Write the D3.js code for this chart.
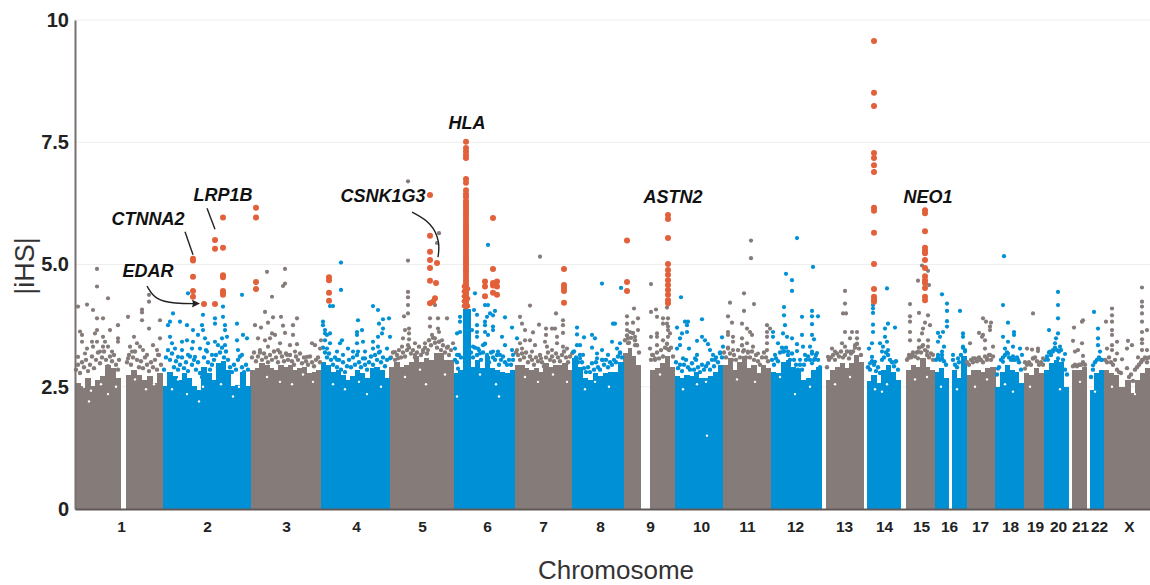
<!DOCTYPE html>
<html><head><meta charset="utf-8">
<script src="https://cdn.jsdelivr.net/npm/d3@7/dist/d3.min.js"></script>
<style>html,body{margin:0;background:#fff}svg{display:block}text{font-family:"Liberation Sans",Arial,sans-serif}</style>
</head><body><svg id="c" width="1150" height="585"></svg>
<script>
// position along the genome, in chart units (0..1075); |iHS| on the other axis
const chromosomeLabels=["1","2","3","4","5","6","7","8","9","10","11","12","13","14","15","16","17","18","19","20","21","22","X"];
const chromosomeTicks=[46,132,211,281,347,412,468,525,575,626,672,720,769,809,846,874,905,935,960,983,1005,1024,1054];
const yTicks=[0,2.5,5,7.5,10];
// spans of the dense mass
const segGrey=[[0,45],[51,87.5],[175,246],[314,378.5],[439.5,497],[548.4,565],[574.5,599.5],[647.8,695.5],[750.5,788],[831,859.5],[891,920],[948.5,969],[997,1011.5],[1028,1049],[1050,1075]];
const segBlue=[[87.5,175],[246,314],[378.5,388],[388,395],[395,439.5],[497,548.4],[599.5,647.8],[695.5,746],[791.5,825],[859.5,873],[876.6,891],[920,948.5],[969,993],[1014.5,1028]];
// top of the solid mass in each span, read left to right
const topGrey=[
[2.57,2.51,2.68,2.51,2.64,2.71,2.95,2.88,2.68],
[2.74,2.85,2.74,2.64,2.71,2.57,2.78],
[2.85,2.88,2.98,2.95,2.88,2.85,2.95,2.91,2.95,2.85,2.88,2.91,2.78,2.81,2.85],
[2.91,3.01,2.91,2.95,3.01,3.12,3.01,3.08,3.05,3.19,3.19,3.05,3.05],
[2.95,2.95,2.88,2.85,2.88,2.81,2.98,2.91,2.95,2.95,2.98,2.85],
[3.19,3.29,3.12,2.95],
[2.84,2.88,2.98,3.12,2.91],
[2.95,3.08,2.84,3.01,3.12,2.88,2.95,2.78,2.95,2.88],
[2.64,2.84,2.91,2.98,2.88,2.98,3.15,3.01],
[2.84,2.95,2.91,3.08,2.91,2.84],
[2.74,2.84,2.84,2.81,2.88,2.91],
[2.78,2.74,2.88,2.78],
[2.85,2.85,2.9],
[2.84,2.78,2.74,2.5],
[2.64,2.37,2.64,2.78,2.88]];
const topBlue=[
[2.51,2.81,2.71,2.64,2.78,2.68,2.51,2.44,2.91,2.78,2.64,2.98,3.02,2.85,2.51,2.54,2.81,2.51],
[3.01,2.95,2.81,2.84,2.74,2.64,2.71,2.84,2.78,2.67,2.88,2.91,2.84,2.67],
[2.78,2.85],
[4.1],
[2.91,3.05,2.88,3.12,2.88,2.85,2.81,2.78,2.85],
[3.08,2.91,2.67,2.64,2.78,2.71,2.78,2.81,2.81,3.01],
[2.71,2.67,2.74,2.71,2.81,2.67,2.67,2.71,2.81,2.95],
[2.81,2.78,3.01,3.05,2.91,2.84,2.64,2.67,2.84,2.91],
[2.61,2.74,2.57,2.84,2.95,2.81,2.64],
[2.81,2.88,2.67],
[2.84,2.67,3.12],
[2.5,2.81,2.95,2.84,2.81,2.57],
[2.84,2.98,3.05,3.01,2.5],
[2.44,2.78,2.84]];
// pale flecks inside the mass
const flecks=[[9,2.5],[16,2.42],[26,2.55],[33,2.35],[41,2.5],[60,2.65],[71,2.45],[79,2.55],[14,2.2],[97,2.45],[103,2.65],[112,2.35],[124,2.2],[128,2.5],[139,2.75],[146,2.55],[158,2.3],[164,2.5],[192,2.7],[205,2.6],[217,2.55],[228,2.75],[238,2.6],[258,2.55],[270,2.45],[284,2.6],[292,2.35],[306,2.5],[330,2.7],[345,2.85],[351,2.55],[370,2.75],[382,2.3],[405,2.75],[421,2.55],[424,2.3],[450,2.7],[463,2.6],[478,2.75],[492,2.6],[510,2.45],[520,2.6],[534,2.5],[585,2.75],[608,2.45],[622,2.55],[631,2.6],[632,1.5],[662,2.65],[680,2.6],[705,2.7],[720,2.35],[735,2.5],[760,2.55],[775,2.7],[800,2.45],[807,2.4],[812,2.55],[840,2.65],[852,2.7],[866,2.5],[882,2.45],[900,2.5],[912,2.65],[930,2.55],[938,2.4],[955,2.5],[985,2.45],[1005,2.6],[1020,2.4],[1037,2.5],[1060,2.35]];
// crowded points along the upper edge of the mass
const fringeGrey=[
[1,2.85],[3,2.95],[5,2.78],[7,3],[9,2.9],[11,3.05],[13,2.82],[15,2.95],[17,3.12],[19,2.88],[21,3.05],[23,3.2],[25,2.98],[27,3.1],[29,3.22],[31,3.05],[33,2.92],[35,3.12],[37,3.02],[39,3.15],[41,2.95],[43,2.85],[44,3.05],
[52,3],[54,3.15],[56,2.95],[58,3.1],[60,3.22],[62,3.05],[64,2.9],[66,3.02],[68,2.88],[70,3.1],[72,2.95],[74,2.82],[76,3],[78,2.9],[80,3.05],[82,2.85],[84,3.15],[86,2.95],
[177,3.1],[179,3.2],[181,3.02],[183,3.12],[185,3.2],[187,3.05],[189,3.18],[191,3.1],[193,3],[195,3.15],[197,3.05],[199,3.22],[201,3.1],[203,3],[205,3.2],[207,3.12],[209,3.02],[211,3.18],[213,3.05],[215,3.15],[217,3.02],[219,2.95],[221,3.12],[223,3.05],[225,3.18],[227,2.98],[229,3.1],[231,3.02],[233,2.95],[235,3.12],[237,3],[239,2.92],[241,3.05],[243,3.1],[245,3],
[316,3.1],[318,3.2],[320,3.05],[322,3.15],[324,3.25],[326,3.1],[328,3.2],[330,3.12],[332,3.25],[334,3.3],[336,3.18],[338,3.25],[340,3.1],[342,3.2],[344,3.32],[346,3.15],[348,3.25],[350,3.3],[352,3.18],[354,3.45],[356,3.35],[358,3.5],[360,3.4],[362,3.3],[364,3.42],[366,3.25],[368,3.35],[370,3.2],[372,3.3],[374,3.15],[376,3.25],
[441,3.2],[443,3.15],[445,3.05],[447,3.18],[449,3.1],[451,3.2],[453,3],[455,3.12],[457,3.05],[459,2.95],[461,3.1],[463,3.02],[465,3.15],[467,3],[469,2.92],[471,3.1],[473,3.2],[475,3.05],[477,3.12],[479,3.02],[481,3.18],[483,3.1],[485,3.02],[487,3.15],[489,3.22],[491,3.1],[493,3],[495,3.12],
[550,3.45],[552,3.55],[554,3.4],[556,3.5],[558,3.6],[560,3.45],[562,3.35],[564,3.2],[576,3.05],[578,3.15],[580,3.05],[582,3.2],[584,3.08],[586,3.25],[588,3.12],[590,3.3],[592,3.38],[594,3.25],[596,3.3],[598,3.12],
[649,3.2],[651,3.1],[653,3.3],[655,3.18],[657,3.05],[659,3.15],[661,3.05],[663,3.25],[665,3.1],[667,3.35],[669,3.25],[671,3.1],[673,3.2],[675,3.1],[677,3.22],[679,3.05],[681,3.15],[683,3.02],[685,2.95],[687,3.1],[689,3.2],[691,3.1],[693,3.02],
[752,2.9],[754,3.05],[756,3.1],[758,3.15],[760,3.05],[762,3.18],[764,3.12],[766,3.22],[768,3.1],[770,3.15],[772,3.22],[774,3.08],[776,3.18],[778,3.22],[780,3.3],[782,3.38],[784,3.28],[786,3.15],
[832,3.05],[834,3.15],[836,3.1],[838,3.2],[840,3.12],[842,3.2],[844,3.3],[846,3.2],[848,3.35],[850,3.25],[852,3.15],[854,3.1],[856,3.18],[858,3.05],
[892,3],[894,2.95],[896,3.05],[898,3],[900,3.08],[902,3.02],[904,3.1],[906,3.05],[908,3],[910,3.12],[912,3.05],[914,3.15],[916,3.05],[918,3.12],
[950,3],[952,2.95],[954,3],[956,2.95],[958,3.08],[960,3.1],[962,3.02],[964,2.95],[966,3],[968,2.95],
[998,2.92],[1000,2.95],[1002,2.92],[1004,2.95],[1006,2.95],[1008,3],[1010,2.95],
[1030,3.05],[1032,3],[1034,3.1],[1036,3],[1038,2.95],[1040,3.05],[1042,2.85],[1044,2.8],[1046,2.78],[1052,2.88],[1054,2.7],[1056,2.75],[1058,2.62],[1060,2.85],[1062,2.9],[1064,2.95],[1066,3],[1068,3.05],[1070,3.1],[1072,3],[1074,3.1]];
const fringeBlue=[
[89,2.85],[91,3.1],[93,3.25],[95,3.05],[97,3.18],[99,2.9],[101,3.02],[103,2.85],[105,2.95],[107,3.1],[109,2.88],[111,3],[113,2.82],[115,3.12],[117,2.95],[119,3.05],[121,2.85],[123,3],[125,2.78],[127,2.7],[129,3.1],[131,3.25],[133,3],[135,2.85],[137,2.95],[139,3.05],[141,3.15],[143,2.9],[145,3.2],[147,3.3],[149,3.1],[151,3.22],[153,3.05],[155,2.9],[157,2.8],[159,2.95],[161,2.85],[163,3.05],[165,3.12],[167,2.9],[169,2.8],[171,2.95],[173,2.85],
[248,3.3],[250,3.2],[252,3.1],[254,3.18],[256,3.05],[258,2.95],[260,3.1],[262,2.9],[264,3.05],[266,2.85],[268,3],[270,2.8],[272,2.92],[274,3.05],[276,2.9],[278,3.1],[280,2.95],[282,3.15],[284,3],[286,2.9],[288,3.08],[290,2.95],[292,2.85],[294,3],[296,3.12],[298,2.95],[300,3.15],[302,3.05],[304,3.2],[306,3],[308,3.1],[310,2.92],[312,3.05],
[380,3.05],[382,3],[384,3.15],[386,3.1],[396,3.2],[398,3.1],[400,3.3],[402,3.15],[404,3.25],[406,3.05],[408,3.2],[410,3.38],[412,3.12],[414,3],[416,3.2],[418,3.1],[420,3.05],[422,3.15],[424,2.95],[426,3.05],[428,3.12],[430,3],[432,2.95],[434,3.05],[436,2.95],[438,3.05],
[499,3.22],[501,3.1],[503,3],[505,3.15],[507,3],[509,2.88],[511,2.8],[513,2.9],[515,2.8],[517,2.98],[519,2.85],[521,3],[523,2.9],[525,2.85],[527,3.05],[529,2.95],[531,3.05],[533,2.9],[535,3],[537,2.95],[539,3.05],[541,3],[543,3.12],[545,3.2],[547,3.1],
[601,3],[603,2.88],[605,2.95],[607,2.82],[609,2.95],[611,3.05],[613,2.9],[615,2.85],[617,2.98],[619,2.85],[621,3.05],[623,2.9],[625,2.8],[627,2.95],[629,2.85],[631,2.92],[633,2.98],[635,2.85],[637,3.05],[639,2.92],[641,3.1],[643,3],[645,3.2],[647,3.1],
[697,3.05],[699,2.95],[701,3.08],[703,3.02],[705,3.2],[707,3.3],[709,3.22],[711,3.3],[713,3.15],[715,3.05],[717,3.18],[719,3.05],[721,2.95],[723,2.85],[725,2.95],[727,2.85],[729,2.95],[731,3.05],[733,3.12],[735,3.05],[737,3.18],[739,3.05],[741,3.15],[743,3.05],[745,2.9],
[793,2.9],[795,2.85],[797,3.02],[799,2.95],[801,2.82],[803,2.9],[805,2.78],[807,3.05],[809,3.1],[811,3.2],[813,3.15],[815,3.05],[817,3],[819,2.92],[821,3.02],[823,2.85],
[861,3.05],[863,3.1],[865,3.05],[867,3.15],[869,3.02],[871,2.95],[878,3.05],[880,2.95],[882,2.9],[884,3],[886,3.15],[888,3.3],[890,3.25],
[922,2.75],[924,2.9],[926,3.05],[928,3.1],[930,3.15],[932,3.2],[934,3.1],[936,3.05],[938,3.12],[940,3.05],[942,3.1],[944,3],[946,2.85],
[970,3.05],[972,3.12],[974,3.2],[976,3.15],[978,3.25],[980,3.3],[982,3.25],[984,3.22],[986,3.25],[988,3.05],[990,2.85],[992,2.75],
[1016,2.7],[1018,2.85],[1020,3],[1022,3.05],[1024,3.1],[1026,3.05]];
const greyPoints=[
[22,4.91],[22,4.55],[33,4.31],[12,4.18],[3,4.14],[18,4.07],[74,4.38],[74,4.24],[67,4.08],[67,4.02],[53,3.93],[22,3.9],[28,3.9],[67,3.86],[43,3.76],[5,3.63],[7,3.56],[22,3.66],[20,3.59],[35,3.66],[28,3.52],[30,3.42],[43,3.49],[43,3.42],[17,3.42],[18,3.32],[22,3.42],[28,3.32],[7,3.42],[12,3.28],[10,3.18],[3,3.11],[25,3.22],[33,3.32],[37,3.22],[59,3.52],[74,3.69],[85,3.86],[55,3.32],[57,3.22],[62,3.39],[65,3.32],[68,3.25],[72,3.15],[78,3.35],[82,3.25],[85,3.49],[83,3.15],[53,3.08],
[192,4.85],[210,4.91],[210,4.61],[208,4.56],[197,4.34],[190,4.03],[206,3.93],[198,3.92],[193,3.81],[222,3.9],[218,3.76],[208,3.75],[180,3.76],[186,3.71],[210,3.6],[218,3.56],[197,3.59],[200,3.56],[195,3.49],[190,3.45],[183,3.49],[185,3.25],[193,3.32],[205,3.39],[215,3.35],[222,3.37],[237,3.39],[240,3.35],[232,3.11],[245,3.28],[246,3.45],[203,3.25],[212,3.15],[220,3.22],
[333,6.7],[333,5.08],[364,5.64],[362,5.44],[333,4.44],[333,4.33],[333,4.17],[333,4],[329,3.94],[334,3.69],[330,3.66],[334,3.59],[328,3.49],[334,3.47],[320,3.21],[327,3.32],[333,3.35],[340,3.39],[350,3.39],[355,3.73],[355,3.9],[357,3.56],[348,3.21],[340,3.15],[353,3.25],[323,3.08],[360,4.17],[363,3.9],[372,3.9],[363,3.69],[364,3.62],[367,3.45],[360,3.49],[373,3.32],[378,3.39],
[465,5.16],[455,4.16],[481,4],[445,3.93],[447,3.79],[464,3.77],[450,3.66],[458,3.61],[471,3.69],[477,3.69],[480,3.69],[488,3.86],[488,3.76],[488,3.6],[482,3.52],[471,3.56],[470,3.42],[450,3.45],[455,3.45],[445,3.39],[442,3.25],[447,3.28],[460,3.35],[472,3.32],[477,3.25],[482,3.39],[488,3.32],[492,3.28],[497,3.18],[466,3.08],[457,3.22],
[576,4.6],[559,4.1],[576,4.03],[581,4.08],[552,3.94],[563,3.9],[582,3.93],[588,3.9],[593,3.9],[552,3.79],[558,3.81],[588,3.79],[592,3.79],[552,3.66],[555,3.62],[563,3.66],[582,3.59],[582,3.52],[576,3.52],[593,3.73],[593,3.66],[595,3.59],[593,3.52],[588,3.45],[553,3.49],[560,3.52],[553,3.39],[560,3.35],[575,3.28],[582,3.35],[592,3.28],[577,3.15],[580,3.08],[592,4.12],
[676,5.49],[676,5.13],[669,4.41],[655,4.22],[679,4.19],[669,4.05],[653,3.94],[657,3.81],[667,3.79],[672,3.69],[653,3.62],[653,3.56],[675,3.62],[667,3.49],[658,3.52],[658,3.42],[677,3.56],[672,3.39],[678,3.32],[653,3.28],[658,3.25],[668,3.22],[673,3.22],[683,3.18],[692,3.76],[695,3.69],[692,3.62],[692,3.52],[692,3.39],[692,3.25],
[770,4.46],[770,4.2],[768,4],[771,4],[770,3.62],[777,3.62],[782,3.62],[775,3.49],[782,3.49],[780,3.35],[767,3.39],[757,3.28],[770,3.32],[753,3.11],[760,3.22],[775,3.22],
[847,4.98],[853,4.87],[843,4.67],[854,4.58],[835,4.19],[844,4.01],[853,3.96],[835,3.94],[835,3.83],[850,3.81],[855,3.76],[848,3.69],[835,3.62],[835,3.45],[847,3.59],[844,3.45],[853,3.45],[847,3.32],[853,3.32],[852,3.22],[858,3.15],[843,3.22],[837,3.15],[843,3.08],[833,3.08],
[908,3.9],[911,3.83],[916,3.81],[915,3.73],[915,3.66],[904,3.6],[908,3.56],[910,3.45],[907,3.52],[910,3.28],[895,3.39],[918,3.32],[898,3.08],[905,3.05],[912,3.08],[915,3.15],
[958,4],[952,3.28],[957,3.26],[963,3.28],[963,3.23],[958,3.08],[950,2.87],[968,3.08],
[999,3.71],[1008,3.86],[1007,3.83],[998,3.44],[1007,3.39],[1003,3.25],[1000,3.22],[1008,3.13],
[1067,4.53],[1067,4.24],[1067,4.14],[1067,4],[1067,3.83],[1067,3.62],[1037,4.1],[1037,3.96],[1037,3.83],[1031,3.83],[1037,3.66],[1037,3.56],[1037,3.35],[1042,3.42],[1037,3.25],[1042,3.18],[1032,3.28],[1047,3.06],[1053,3.44],[1057,3.35],[1052,3.28],[1072,3.66],[1067,3.47],[1067,3.39],[1072,3.25],[1067,3.25],[1063,3.1],[1067,3.05],[1072,3.08]];
const bluePoints=[
[113,4.41],[167,4.38],[98,4],[95,3.83],[93,3.76],[105,3.83],[112,3.76],[127,3.76],[128,3.66],[118,3.66],[140,3.9],[140,3.79],[148,4.14],[148,3.93],[150,3.76],[150,3.66],[162,3.79],[168,3.56],[172,3.49],[95,3.52],[97,3.39],[107,3.42],[112,3.45],[118,3.42],[123,3.56],[130,3.49],[133,3.39],[140,3.42],[143,3.35],[150,3.35],[162,3.45],[100,3.28],[107,3.25],[117,3.28],[125,3.28],[132,3.22],[137,3.15],[113,3.15],[147,3.49],[152,3.52],[128,3.97],[167,3.15],[163,3.25],[103,3.11],[120,3.11],
[266,5.04],[266,4.48],[255,4.15],[258,4.15],[298,4.15],[303,4.07],[283,3.86],[308,3.88],[314,3.9],[304,3.79],[248,3.83],[248,3.76],[250,3.66],[250,3.59],[252,3.56],[255,3.59],[250,3.45],[282,3.62],[282,3.56],[287,3.66],[308,3.69],[307,3.59],[315,3.52],[303,3.52],[298,3.42],[288,3.42],[267,3.45],[265,3.39],[282,3.39],[303,3.32],[298,3.28],[312,3.28],[273,3.28],[262,3.22],[278,3.22],[290,3.08],[283,3.22],[305,3.22],[315,3.08],[252,3.28],[255,3.39],[268,3.15],[262,3.05],[290,3.22],
[413,5.4],[400,4.41],[410,4.17],[413,4.17],[399,4.07],[402,3.97],[415,4],[412,3.93],[410,3.83],[385,3.93],[385,3.83],[430,3.92],[420,4.05],[418,3.96],[437,3.71],[427,3.52],[442,3.49],[382,3.59],[385,3.62],[397,3.66],[402,3.76],[402,3.62],[402,3.52],[410,3.76],[410,3.62],[413,3.56],[418,3.73],[418,3.66],[380,3.28],[382,3.15],[398,3.32],[403,3.28],[408,3.35],[418,3.22],[423,3.22],[430,3.35],[425,3.15],[437,3.25],[438,3.15],[383,2.87],[405,3.18],[412,3.15],[422,2.67],
[527,4.61],[502,3.71],[502,3.57],[509,3.51],[517,3.56],[520,3.49],[502,3.35],[505,3.35],[517,3.3],[537,3.42],[498,3.21],[508,3.15],[522,3.18],[522,3.08],[528,3.05],[533,3.15],[505,3.08],[527,3.25],[538,3.79],[546,4.52],[540,3.79],[545,3.39],[542,3.28],[545,3.18],
[606,4.33],[627,3.88],[610,3.83],[613,3.83],[602,3.71],[612,3.76],[612,3.62],[607,3.59],[605,3.49],[622,3.44],[627,3.52],[630,3.45],[647,3.51],[633,3.37],[602,3.28],[614,3.28],[635,3.25],[648,3.32],[608,3.08],[622,3.15],[638,3.15],[645,3.18],[640,3.05],[605,3.35],[620,3.08],
[722,5.54],[738,4.95],[711,4.81],[717,4.68],[709,4.13],[709,3.96],[717,4.46],[710,3.76],[708,3.59],[712,3.52],[698,3.62],[698,3.52],[717,3.49],[703,3.39],[708,3.22],[713,3.22],[700,3.15],[727,3.93],[737,4.05],[737,3.94],[743,3.94],[737,3.78],[727,3.56],[737,3.56],[739,3.47],[722,3.37],[728,3.32],[735,3.32],[722,3.23],[730,3.15],[737,3.22],[742,3.19],[725,3.05],[740,3.08],[737,2.98],
[798,4.17],[798,4.1],[798,4.01],[798,3.77],[798,3.62],[812,4.51],[813,3.79],[810,3.69],[820,3.71],[797,3.39],[805,3.39],[810,3.52],[812,3.42],[794,3.28],[808,3.32],[797,3.11],[800,3.01],[813,3.25],[820,3.01],[795,2.98],[807,3.22],
[867,4.39],[872,4.2],[872,4.05],[872,3.84],[863,3.6],[868,3.62],[865,3.52],[863,3.42],[869,3.32],[867,3.22],[863,3.15],[867,3.08],[885,4.05],[872,3.73],[888,3.59],[888,3.52],[888,3.32],[878,3.15],[883,3.08],[890,3.22],
[929,5.17],[928,4.17],[933,3.81],[939,3.62],[939,3.56],[928,3.52],[933,3.42],[930,3.28],[938,3.32],[945,3.28],[933,3.18],[947,3.15],[938,3.05],[928,3.01],[943,3.05],[923,2.87],
[983,4.44],[983,4.17],[983,3.9],[974,3.66],[983,3.59],[981,3.49],[980,3.39],[985,3.32],[975,3.22],[978,3.22],[990,3.17],[983,3.08],[973,3.05],
[1019,4.03],[1023,3.69],[1023,3.49],[1023,3.35],[1025,3.22],[1027,3.05],[1018,2.94]];
const orangePoints=[
[118,5.12],[118,5.08],[118,4.75],[118,4.46],[118,4.34],[129,4.19],[140,4.19],[140,5.5],[140,5.32],[148,5.34],[148,5.96],[148,4.78],[148,4.74],[148,4.46],[148,4.42],[148,4.38],[181,6.16],[181,5.96],[181,4.64],[181,4.5],
[254,4.74],[254,4.68],[254,4.42],[254,4.26],
[355,6.42],[355,5.59],[355,5.26],[355,5.09],[355,4.93],[362,5.03],[355,4.67],[361,4.62],[360,4.31],[358,4.24],[355,4.21],
[418,5.95],[418,4.91],[410,4.65],[410,4.55],[410,4.35],[418,4.62],[422,4.65],[422,4.55],[418,4.57],[418,4.42],[422,4.38],
[489,4.91],[489,4.58],[489,4.52],[489,4.46],[489,4.22],
[552,5.49],[552,4.64],[552,4.46],
[593,6.01],[593,5.93],[593,5.54],[593,5.01],[593,4.89],[593,4.79],[593,4.68],[593,4.58],[593,4.48],[593,4.38],[593,4.27],[593,4.21],
[799,9.57],[799,8.51],[799,8.24],[799,7.28],[799,7.18],[799,7.03],[799,6.89],[799,6.16],[799,6.1],[799,5.65],[799,5.01],[799,4.5],[799,4.34],[799,4.28],[799,4.24],
[850,6.11],[850,6.05],[850,5.68],[850,5.34],[850,5.28],[850,5.23],[850,5.09],[850,4.93],[850,4.76],[850,4.68],[850,4.62],[850,4.52],[850,4.34],[850,4.27]];
const hlaPosition=391;
const hlaValues=[7.51,7.38,7.31,7.24,7.18,6.75,6.67,6.52,6.44,6.38,6.3,6.24,6.18,6.12,6.06,6,5.94,5.88,5.82,5.76,5.7,5.64,5.58,5.52,5.46,5.4,5.34,5.28,5.22,5.16,5.1,5.04,4.98,4.92,4.86,4.8,4.74,4.68,4.62,4.56,4.5,4.44,4.38,4.32,4.26,4.2,4.14];
const hlaShoulder=[[389,4.55],[389,4.45],[389,4.35],[389,4.25],[389,4.15],[393,4.5],[393,4.3],[393,4.15]];
const geneLabels=[["HLA",392,7.78],["LRP1B",148,6.3],["CTNNA2",73,5.8],["EDAR",73,4.74],["CSNK1G3",308,6.28],["ASTN2",598,6.26],["NEO1",853,6.26]];

const colGrey="#857c7a",colBlue="#0090d6",colOrange="#e2603a";
const svg=d3.select("#c");
const x=d3.scaleLinear().domain([0,1075]).range([75,1150]);
const y=d3.scaleLinear().domain([0,10]).range([509,20]);

svg.append("g").selectAll("line").data(yTicks.filter(d=>d>0)).join("line")
 .attr("x1",x(0)).attr("x2",x(1075)).attr("y1",d=>y(d)).attr("y2",d=>y(d)).attr("stroke","#efeeee").attr("stroke-width",1);

function mass(segs,tops,col){
 const g=svg.append("g").attr("fill",col).attr("shape-rendering","crispEdges");
 segs.forEach((s,i)=>{
  const w=(s[1]-s[0])/tops[i].length;
  g.selectAll(null).data(tops[i]).join("rect")
   .attr("x",(d,j)=>x(s[0]+j*w)).attr("width",x(w)-x(0)+.6)
   .attr("y",d=>y(d)).attr("height",d=>y(0)-y(d));
 });
}
mass(segGrey,topGrey,colGrey);
mass(segBlue,topBlue,colBlue);

function dots(data,col,r){
 svg.append("g").attr("fill",col).selectAll("circle").data(data).join("circle")
  .attr("cx",d=>x(d[0])).attr("cy",d=>y(d[1])).attr("r",r);
}
dots(flecks,"#fff",1.2);
dots(fringeGrey,colGrey,2.2);
dots(fringeBlue,colBlue,2.2);
dots(greyPoints,colGrey,2.1);
dots(bluePoints,colBlue,2.1);
dots(orangePoints,colOrange,3);
dots(hlaShoulder,colOrange,2.4);
dots(hlaValues.map(v=>[hlaPosition,v]),colOrange,3);

// axes
const yAxis=d3.axisLeft(y).tickValues(yTicks).tickSize(0).tickPadding(6).tickFormat(d=>d===0?"0":d===10?"10":d3.format(".1f")(d));
const gy=svg.append("g").attr("transform",`translate(${x(0)},0)`).call(yAxis);
gy.select(".domain").attr("stroke","#77706e").attr("stroke-width",2);
gy.selectAll("text").attr("font-size",20).attr("font-weight","bold").attr("fill","#222");
const xAxis=d3.axisBottom(x).tickValues(chromosomeTicks).tickSize(0).tickPadding(12).tickFormat((d,i)=>chromosomeLabels[i]);
const gx=svg.append("g").attr("transform",`translate(0,${y(0)})`).call(xAxis);
gx.select(".domain").attr("stroke","#5f5856").attr("stroke-width",2);
gx.selectAll("text").attr("font-size",15.5).attr("font-weight","bold").attr("fill","#222");

svg.append("text").attr("x",616).attr("y",579).attr("text-anchor","middle").attr("font-size",26).attr("fill","#333").text("Chromosome");
svg.append("text").attr("transform","translate(34,266) rotate(-90)").attr("text-anchor","middle").attr("font-size",27).attr("fill","#333").text("|iHS|");

svg.append("g").selectAll("text").data(geneLabels).join("text")
 .attr("x",d=>x(d[1])).attr("y",d=>y(d[2])).attr("text-anchor","middle")
 .attr("font-size",18).attr("font-weight","bold").attr("font-style","italic").attr("fill","#111").text(d=>d[0]);

// leader lines, anchored through the chart scales
const ann=svg.append("g").attr("fill","none").attr("stroke","#222").attr("stroke-width",1.4);
const lead=d3.line().x(d=>x(d[0])).y(d=>y(d[1])).curve(d3.curveBasis);
ann.append("path").attr("d",lead([[110,5.67],[118,5.2]]));
ann.append("path").attr("d",lead([[132,6.15],[140,5.72]]));
ann.append("path").attr("d",lead([[72,4.56],[80,4.28],[100,4.2],[122,4.2]]));
ann.append("path").attr("d",lead([[337,6.07],[357,5.85],[365,5.45],[363,5.15]]));
svg.append("path").attr("fill","#222").attr("d",d3.line().x(d=>x(d[0])).y(d=>y(d[1]))([[125,4.2],[117,4.28],[118,4.2],[117,4.12]])+"Z");
</script></body></html>
